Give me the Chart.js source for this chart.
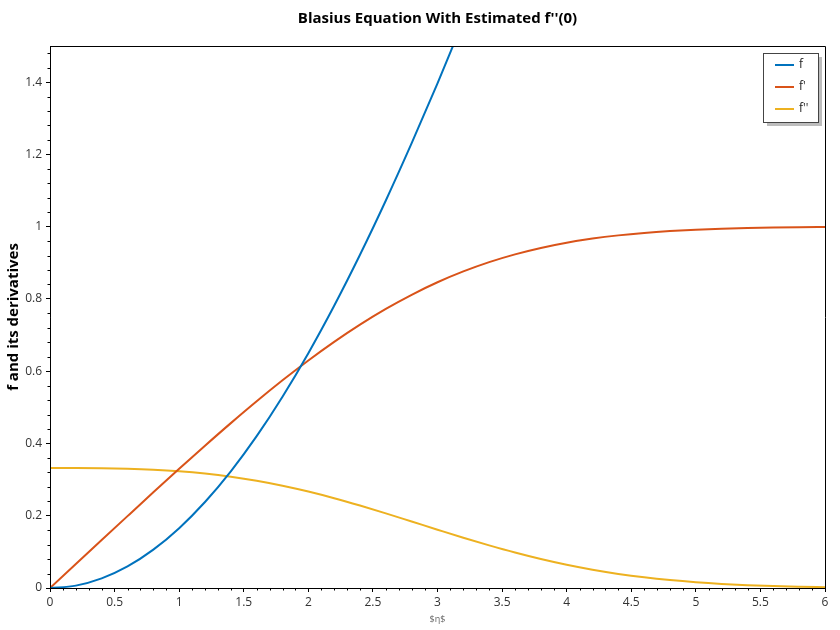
<!DOCTYPE html>
<html>
<head>
<meta charset="utf-8">
<script src="https://cdn.jsdelivr.net/npm/chart.js@4.4.1/dist/chart.umd.min.js"></script>
<style>
html,body{margin:0;padding:0;background:#fff;}
#wrap{width:840px;height:630px;}
</style>
</head>
<body>
<div id="wrap"><canvas id="c" width="840" height="630"></canvas></div>
<script>
const eta = [0.0,0.2,0.4,0.6,0.8,1.0,1.2,1.4,1.6,1.8,2.0,2.2,2.4,2.6,2.8,3.0,3.2,3.4,3.6,3.8,4.0,4.2,4.4,4.6,4.8,5.0,5.2,5.4,5.6,5.8,6.0];
const fVals = [0,0.0066,0.0266,0.0597,0.1061,0.1656,0.2380,0.3230,0.4203,0.5295,0.6500,0.7812,0.9223,1.0725,1.2310,1.3968,1.5691,1.7470,1.9295,2.1161,2.3058,2.4981,2.6924,2.8883,3.0853,3.2833,3.4819,3.6809,3.8803,4.0799,4.2796];
const fpVals = [0,0.0664,0.1328,0.1989,0.2647,0.3298,0.3938,0.4563,0.5168,0.5748,0.6298,0.6813,0.7290,0.7725,0.8115,0.8461,0.8761,0.9018,0.9233,0.9411,0.9555,0.9670,0.9759,0.9827,0.9878,0.9916,0.9943,0.9962,0.9975,0.9984,0.9990];
const fppVals = [0.3321,0.3320,0.3315,0.3301,0.3274,0.3230,0.3166,0.3079,0.2967,0.2829,0.2668,0.2484,0.2281,0.2065,0.1840,0.1614,0.1391,0.1179,0.0981,0.0801,0.0642,0.0505,0.0390,0.0295,0.0219,0.0159,0.0113,0.0079,0.0054,0.0037,0.0024];
const seriesNames = ["f", "f'", "f''"];
const seriesColors = ["#0072BD", "#D95319", "#EDB120"];
const xTicks = [0,0.5,1,1.5,2,2.5,3,3.5,4,4.5,5,5.5,6];
const yTicks = [0,0.2,0.4,0.6,0.8,1,1.2,1.4];

const FONT = "'Open Sans', 'Noto Sans', sans-serif";

function pts(vals){ return eta.map((x,i)=>({x:x,y:vals[i]})); }

const boxPlugin = {
  id:'boxPlugin',
  afterDraw(chart){
    const ctx = chart.ctx, a = chart.chartArea;
    const xs = chart.scales.x, ys = chart.scales.y;
    ctx.save();
    ctx.strokeStyle = '#000';
    ctx.lineWidth = 1;
    ctx.beginPath();
    ctx.rect(Math.round(a.left)+0.5, Math.round(a.top)+0.5, Math.round(a.right-a.left), Math.round(a.bottom-a.top));
    ctx.stroke();
    // minor ticks
    ctx.beginPath();
    for (let i=0;i<=60;i++){
      if (i%5===0) continue;
      const px = Math.round(xs.getPixelForValue(i/10))+0.5;
      ctx.moveTo(px, a.bottom); ctx.lineTo(px, a.bottom+2.5);
    }
    for (let i=0;i<=37;i++){
      if (i%5===0) continue;
      const v = i*0.04;
      if (v>1.5) break;
      const py = Math.round(ys.getPixelForValue(v))+0.5;
      ctx.moveTo(a.left, py); ctx.lineTo(a.left-2.5, py);
    }
    ctx.stroke();
    // legend
    const lx = 763, ly = 53, lw = 55, lh = 69;
    ctx.fillStyle = '#bdbdbd';
    ctx.fillRect(lx+4, ly+4, lw, lh);
    ctx.fillStyle = '#fff';
    ctx.fillRect(lx, ly, lw, lh);
    ctx.strokeStyle = '#444';
    ctx.lineWidth = 1;
    ctx.strokeRect(lx+0.5, ly+0.5, lw, lh);
    ctx.font = "12px " + FONT;
    ctx.textBaseline = 'middle';
    chart.data.datasets.forEach((ds,i)=>{
      const y = ly + 12 + i*22;
      ctx.strokeStyle = ds.borderColor;
      ctx.lineWidth = 2;
      ctx.beginPath(); ctx.moveTo(lx+12, y); ctx.lineTo(lx+31, y); ctx.stroke();
      ctx.fillStyle = '#222';
      ctx.fillText(ds.label, lx+36, y);
    });
    ctx.restore();
  }
};

new Chart(document.getElementById('c'), {
  type:'line',
  data:{
    datasets: [fVals, fpVals, fppVals].map((v,i)=>({
      label: seriesNames[i],
      data: pts(v),
      borderColor: seriesColors[i],
      backgroundColor: seriesColors[i],
      borderWidth: 2,
      pointRadius: 0,
      tension: 0.4,
      cubicInterpolationMode: 'monotone',
      fill: false
    }))
  },
  options:{
    responsive:false,
    animation:false,
    devicePixelRatio:1,
    layout:{padding:{left:0,right:15,top:0,bottom:0}},
    plugins:{
      legend:{display:false},
      tooltip:{enabled:false},
      title:{
        display:true,
        fullSize:false,
        text:"Blasius Equation With Estimated f''(0)",
        color:'#000',
        font:{family:FONT, size:15, weight:'bold'},
        padding:{top:10,bottom:18}
      }
    },
    scales:{
      x:{
        type:'linear', min:0, max:6,
        afterBuildTicks(s){ s.ticks = xTicks.map(v=>({value:v})); },
        afterFit(s){ s.height = 42; },
        ticks:{
          color:'#333', font:{family:FONT, size:12}, padding:3,
          maxRotation:0, autoSkip:false,
          callback:(v)=>String(v)
        },
        grid:{display:true, drawOnChartArea:false, drawTicks:true, tickLength:4, color:'#000', tickColor:'#000'},
        border:{display:true, color:'#000', width:1},
        title:{display:true, text:'$η$', color:'#666', font:{family:FONT, size:9}, padding:{top:0,bottom:5}}
      },
      y:{
        type:'linear', min:0, max:1.5,
        afterBuildTicks(s){ s.ticks = yTicks.map(v=>({value:v})); },
        afterFit(s){ s.width = 50; },
        ticks:{
          color:'#333', font:{family:FONT, size:12}, padding:4,
          autoSkip:false,
          callback:(v)=>String(Math.round(v*10)/10)
        },
        grid:{display:true, drawOnChartArea:false, drawTicks:true, tickLength:4, color:'#000', tickColor:'#000'},
        border:{display:true, color:'#000', width:1},
        title:{display:true, text:'f and its derivatives', color:'#000', font:{family:FONT, size:15, weight:'bold'}, padding:{top:5,bottom:0}}
      }
    }
  },
  plugins:[boxPlugin]
});
</script>
</body>
</html>
